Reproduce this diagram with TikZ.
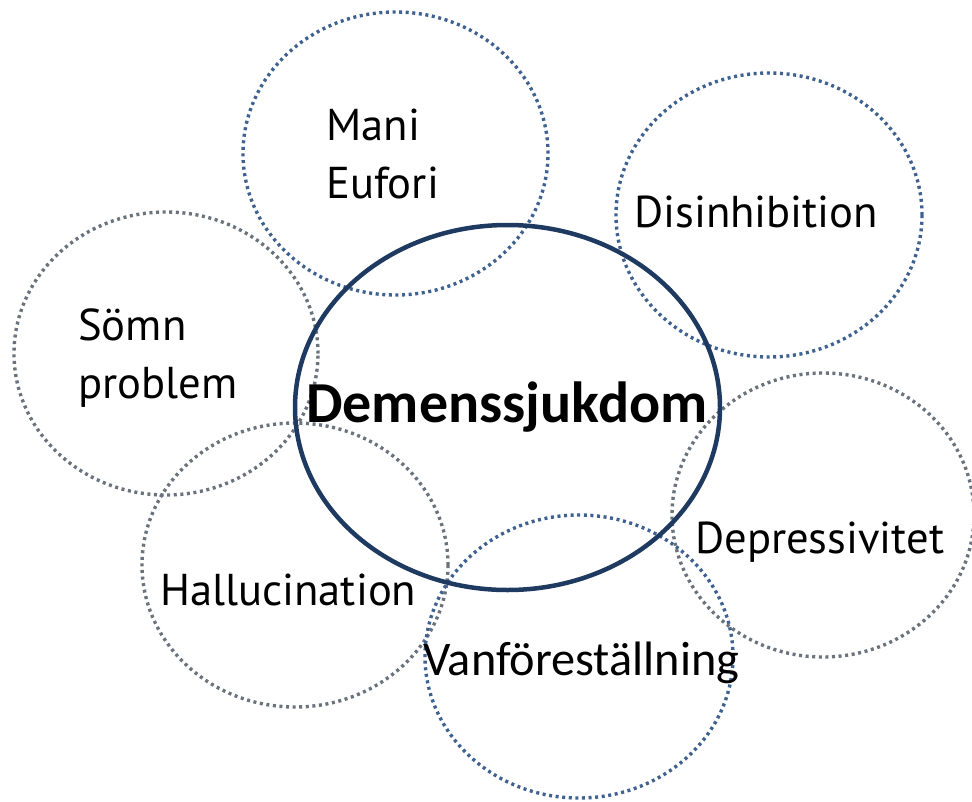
\documentclass[tikz,border=0pt]{standalone}
\usepackage{fontspec}
\setmainfont{PT Sans}
\newfontfamily\calib{Carlito}
\usetikzlibrary{shapes.geometric}
\definecolor{dotblue}{HTML}{3F6190}
\definecolor{dotgray}{HTML}{6A727C}
\definecolor{navy}{HTML}{1F3A60}
\tikzset{
  bubble/.style={ellipse, draw, line width=3.4pt, dash pattern=on 3pt off 3.6pt, inner sep=0pt},
  bluebub/.style={bubble, draw=dotblue},
  graybub/.style={bubble, draw=dotgray},
  lbl/.style={anchor=base west, inner sep=0pt, font=\fontsize{44.6}{45}\selectfont},
}
\begin{document}
\begin{tikzpicture}[x=1pt,y=-1pt]
\useasboundingbox (0,0) rectangle (972,801);
\node[bluebub, minimum width=305pt, minimum height=283pt] (mani) at (395.5,153.5) {};
\node[bluebub, minimum width=306pt, minimum height=284pt] (disin) at (769,215) {};
\node[graybub, minimum width=304pt, minimum height=283pt] (somn) at (166,353.5) {};
\node[graybub, minimum width=306pt, minimum height=284pt] (hall) at (295,565) {};
\node[bluebub, minimum width=308pt, minimum height=283pt] (vanf) at (579,656.5) {};
\node[graybub, minimum width=302pt, minimum height=284pt] (depr) at (823,515) {};
\node[ellipse, draw=navy, line width=4.5pt, minimum width=425pt, minimum height=365pt, inner sep=0pt] (dem) at (507.5,407.5) {};
\node[lbl] (t1) at (326,140) {Mani};
\node[lbl] (t2) at (326,198) {Eufori};
\node[lbl] (t3) at (634,227) {Disinhibition};
\node[lbl] (t4) at (78,340) {Sömn};
\node[lbl] (t5) at (78,398) {problem};
\node[anchor=base west, inner sep=0pt, font=\calib\bfseries\fontsize{58}{58}\selectfont] (t6) at (306,422) {Demenssjukdom};
\node[lbl] (t7) at (160,605) {Hallucination};
\node[lbl] (t8) at (695,553) {Depressivitet};
\node[anchor=base west, inner sep=0pt, font=\calib\fontsize{48.3}{49}\selectfont] (t9) at (423,675) {Vanföreställning};
\end{tikzpicture}
\end{document}
